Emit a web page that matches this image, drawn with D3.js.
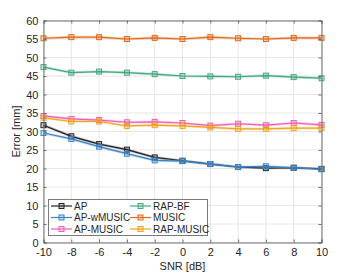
<!DOCTYPE html>
<html>
<head>
<meta charset="utf-8">
<script src="https://cdn.jsdelivr.net/npm/d3@7"></script>
<style>
  body { margin: 0; background: #fff; }
  text { font-family: "Liberation Sans", Arial, sans-serif; }
</style>
</head>
<body>
<div id="chart"></div>
<script>
const snr = [-10, -8, -6, -4, -2, 0, 2, 4, 6, 8, 10];
const ap = [31.7, 28.7, 26.6, 25.1, 23.0, 22.1, 21.2, 20.4, 20.1, 20.2, 19.9];
const apWMusic = [29.6, 28.0, 25.9, 24.0, 22.2, 22.0, 21.2, 20.4, 20.6, 20.2, 19.8];
const apMusic = [34.2, 33.4, 33.1, 32.5, 32.6, 32.3, 31.6, 32.1, 31.7, 32.3, 31.8];
const rapBF = [47.4, 45.9, 46.2, 45.9, 45.5, 45.0, 44.9, 44.8, 45.1, 44.7, 44.4];
const music = [55.2, 55.5, 55.5, 55.0, 55.3, 55.0, 55.5, 55.2, 55.0, 55.3, 55.3];
const rapMusic = [33.7, 32.7, 32.7, 31.5, 31.7, 31.5, 31.1, 30.7, 30.7, 30.9, 30.9];
const xTicks = [-10, -8, -6, -4, -2, 0, 2, 4, 6, 8, 10];
const yTicks = [0, 5, 10, 15, 20, 25, 30, 35, 40, 45, 50, 55, 60];

const series = [
  { name: "AP", values: ap, color: "#222222" },
  { name: "AP-wMUSIC", values: apWMusic, color: "#3b84c8" },
  { name: "AP-MUSIC", values: apMusic, color: "#f25cb4" },
  { name: "RAP-BF", values: rapBF, color: "#44a97e" },
  { name: "MUSIC", values: music, color: "#e2691c" },
  { name: "RAP-MUSIC", values: rapMusic, color: "#f0a520" }
];

var width = 350, height = 274;
var mLeft = 43.5, mRight = 321.5, mTop = 20.5, mBottom = 242.5;

var svg = d3.select("#chart").append("svg")
  .attr("width", width).attr("height", height);

var x = d3.scaleLinear().domain([-10, 10]).range([mLeft, mRight]);
var y = d3.scaleLinear().domain([0, 60]).range([mBottom, mTop]);

/* grid */
var grid = svg.append("g");
grid.selectAll(".gx").data(xTicks).enter().append("line")
  .attr("x1", d => x(d)).attr("x2", d => x(d))
  .attr("y1", mTop).attr("y2", mBottom)
  .attr("stroke", "#e6e6e6").attr("stroke-width", 1);
grid.selectAll(".gy").data(yTicks).enter().append("line")
  .attr("y1", d => y(d)).attr("y2", d => y(d))
  .attr("x1", mLeft).attr("x2", mRight)
  .attr("stroke", "#e6e6e6").attr("stroke-width", 1);

/* lines and markers */
var line = d3.line().x((d, i) => x(snr[i])).y(d => y(d));
var lines = svg.append("g");
series.forEach(function (s) {
  lines.append("path")
    .attr("d", line(s.values))
    .attr("fill", "none")
    .attr("stroke", s.color)
    .attr("stroke-opacity", 0.3)
    .attr("stroke-width", 2.6);
  lines.append("path")
    .attr("d", line(s.values))
    .attr("fill", "none")
    .attr("stroke", s.color)
    .attr("stroke-width", 1.2);
  lines.selectAll(null).data(s.values).enter().append("rect")
    .attr("x", (d, i) => x(snr[i]) - 2.5)
    .attr("y", d => y(d) - 2.5)
    .attr("width", 5).attr("height", 5)
    .attr("fill", s.color).attr("fill-opacity", 0.25)
    .attr("stroke", s.color).attr("stroke-width", 1);
});

/* axes */
var axisColor = "#6e6e6e";
var xAxis = d3.axisBottom(x).tickValues(xTicks).tickSize(-3).tickPadding(6).tickFormat(d3.format("d"));
var yAxis = d3.axisLeft(y).tickValues(yTicks).tickSize(-3).tickPadding(5);
var gx = svg.append("g").attr("transform", `translate(0,${mBottom})`).call(xAxis);
var gy = svg.append("g").attr("transform", `translate(${mLeft},0)`).call(yAxis);
var gx2 = svg.append("g").attr("transform", `translate(0,${mTop})`)
  .call(d3.axisTop(x).tickValues(xTicks).tickSize(-3).tickFormat(""));
var gy2 = svg.append("g").attr("transform", `translate(${mRight},0)`)
  .call(d3.axisRight(y).tickValues(yTicks).tickSize(-3).tickFormat(""));
[gx, gy, gx2, gy2].forEach(function (g) {
  g.select(".domain").attr("stroke", axisColor);
  g.selectAll(".tick line").attr("stroke", axisColor);
  g.selectAll(".tick text").attr("fill", "#262626").attr("font-size", 11)
    .style("font-family", "Liberation Sans, Arial, sans-serif");
});
gx.selectAll(".tick text").text(d => d < 0 ? "-" + Math.abs(d) : d);

svg.append("text")
  .attr("x", (mLeft + mRight) / 2).attr("y", 270)
  .attr("text-anchor", "middle").attr("font-size", 11).attr("fill", "#262626")
  .text("SNR [dB]");
svg.append("text")
  .attr("transform", `translate(20,${(mTop + mBottom) / 2}) rotate(-90)`)
  .attr("text-anchor", "middle").attr("font-size", 11).attr("fill", "#262626")
  .text("Error [mm]");

/* legend */
var legend = svg.append("g");
legend.append("rect")
  .attr("x", 48.5).attr("y", 199.5).attr("width", 159).attr("height", 36)
  .attr("fill", "#fff").attr("stroke", "#7a7a7a").attr("stroke-width", 1);
series.forEach(function (s, i) {
  var col = Math.floor(i / 3), row = i % 3;
  var lx = 51 + col * 79, ly = 206 + row * 11.5;
  legend.append("line")
    .attr("x1", lx).attr("x2", lx + 21).attr("y1", ly).attr("y2", ly)
    .attr("stroke", s.color).attr("stroke-width", 1.2);
  legend.append("rect")
    .attr("x", lx + 10.5 - 2.5).attr("y", ly - 2.5).attr("width", 5).attr("height", 5)
    .attr("fill", s.color).attr("fill-opacity", 0.25)
    .attr("stroke", s.color).attr("stroke-width", 1);
  legend.append("text")
    .attr("x", lx + 23).attr("y", ly + 3.8)
    .attr("font-size", 10).attr("fill", "#262626")
    .text(s.name);
});
</script>
</body>
</html>
